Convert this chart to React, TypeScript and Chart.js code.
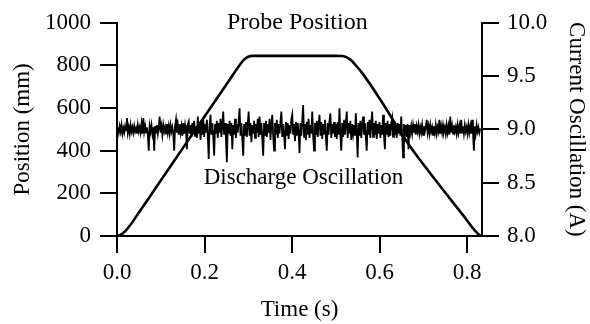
import React, { useEffect, useRef } from "react";
import { Chart, registerables } from "chart.js";

Chart.register(...registerables);

// Probe position (mm) vs time (s)
const probeTime = [0, 0.01, 0.02, 0.03, 0.05, 0.1, 0.15, 0.2, 0.25, 0.28, 0.29, 0.3, 0.31, 0.4, 0.5, 0.515, 0.525, 0.535, 0.545, 0.56, 0.6, 0.663, 0.724, 0.8, 0.815, 0.825, 0.832];
const probeMM = [0, 8, 25, 50, 110, 260, 411, 561, 711, 801, 827, 841, 845, 845, 845, 844, 838, 824, 802, 765, 645, 440, 272, 73, 32, 10, 0];

// Discharge current oscillation (A), uniformly sampled between noiseStart and noiseEnd
const noiseStart = 0.002;
const noiseEnd = 0.83;
const noiseAmps = [
  9.02, 8.97, 9.03, 8.98, 9.04, 8.96, 9.01, 8.97, 9.03, 8.99, 9.106, 8.97, 9.02, 8.96, 9.04, 8.98, 9.02, 8.97, 9.03, 8.98,
  9.01, 8.96, 9.04, 8.98, 9.02, 8.97, 9.05, 8.96, 9.106, 8.98, 9.03, 8.97, 9.02, 8.95, 8.8, 9.03, 8.98, 9.04, 8.96, 9.02,
  8.8, 9.03, 8.97, 9.04, 8.96, 9.02, 9.12, 8.97, 9.03, 8.95, 9.04, 8.98, 9.02, 8.96, 9.05, 8.97, 9.03, 8.96, 9.04, 8.98,
  9.02, 8.96, 8.8, 9.03, 9.09, 8.97, 9.04, 8.95, 9.05, 8.97, 9.03, 8.94, 9.06, 8.96, 9.04, 8.98, 8.814, 9.05, 9.075, 8.96,
  9.04, 8.93, 9.06, 8.97, 9.08, 8.94, 9.03, 8.92, 9.12, 8.96, 9.05, 8.9, 9.07, 8.95, 9.106, 8.93, 9.05, 8.97, 9.09, 8.94,
  8.722, 9.04, 9.137, 8.95, 9.06, 8.93, 8.753, 9.05, 8.96, 9.08, 8.92, 9.06, 8.97, 9.1, 8.93, 9.04, 9.167, 8.95, 9.06, 8.91,
  8.691, 9.05, 8.96, 9.08, 8.94, 9.06, 8.814, 9.04, 8.95, 9.1, 8.92, 9.05, 8.97, 9.08, 9.198, 8.94, 9.06, 8.9, 8.753, 9.05,
  8.95, 9.07, 8.93, 9.05, 9.167, 8.94, 9.06, 8.88, 9.04, 8.96, 9.08, 8.92, 9.05, 8.97, 9.1, 8.93, 9.12, 8.95, 9.06, 8.91,
  8.753, 9.06, 8.95, 9.08, 8.93, 9.05, 8.97, 9.1, 8.9, 9.04, 9.137, 8.94, 8.8, 9.06, 8.95, 9.09, 8.92, 9.05, 8.96, 9.07,
  9.167, 8.93, 9.05, 8.95, 8.814, 9.07, 8.94, 9.06, 8.91, 9.04, 8.96, 9.09, 9.137, 8.95, 9.05, 8.89, 9.07, 8.94, 9.06, 8.96,
  8.78, 9.06, 8.94, 9.08, 9.229, 8.93, 9.05, 8.9, 9.07, 8.95, 9.1, 8.92, 9.04, 8.96, 9.167, 8.94, 8.8, 9.06, 8.95, 9.08,
  8.93, 9.05, 9.137, 8.94, 9.07, 8.91, 9.05, 8.96, 9.09, 8.93, 8.8, 9.06, 8.95, 9.08, 9.15, 8.92, 9.05, 8.96, 9.07, 8.93,
  9.05, 8.91, 9.07, 8.95, 9.198, 8.94, 8.8, 9.06, 8.93, 9.09, 8.95, 9.05, 9.167, 8.92, 9.06, 8.96, 9.08, 8.9, 9.05, 8.96,
  9.04, 8.94, 9.15, 8.96, 8.737, 9.06, 8.94, 9.08, 8.92, 9.05, 9.12, 8.95, 9.06, 8.93, 8.8, 9.07, 8.95, 9.09, 8.92, 9.05,
  9.167, 8.93, 9.06, 8.95, 9.08, 8.91, 9.05, 8.96, 9.07, 8.92, 9.04, 8.95, 9.137, 8.94, 8.814, 9.06, 8.95, 9.08, 8.93, 9.05,
  8.94, 9.06, 9.106, 8.93, 9.07, 8.95, 9.04, 8.92, 9.06, 8.96, 9.05, 8.94, 9.12, 8.95, 8.737, 9.05, 8.96, 9.04, 8.93, 9.05,
  8.814, 9.04, 8.97, 9.03, 8.96, 9.04, 8.97, 9.05, 8.95, 9.03, 8.98, 9.04, 8.96, 9.02, 8.97, 9.04, 8.95, 9.03, 8.98, 9.02,
  9.09, 8.97, 9.03, 8.96, 9.04, 8.98, 9.02, 8.95, 9.03, 8.97, 9.04, 8.96, 9.02, 8.98, 9.09, 8.96, 9.03, 8.97, 9.04, 8.98,
  9.02, 8.96, 9.04, 8.97, 9.03, 8.95, 9.12, 8.97, 9.03, 8.96, 9.04, 8.98, 9.02, 8.96, 9.04, 8.97, 9.03, 8.96, 9.09, 8.97,
  9.03, 8.96, 9.04, 8.98, 9.02, 8.96, 9.04, 8.97, 9.03, 8.96, 9.09, 8.97, 8.8, 9.03, 8.96, 9.04, 8.98, 9.02, 8.97, 9.01,
];

// In-plot text labels (time, position mm)
const annotText = ["Probe Position", "Discharge Oscillation"];
const annotTime = [0.412, 0.426];
const annotMM = [1000, 271];
const annotSize = [24, 23];

const FONT = '"Liberation Serif", "Times New Roman", serif';

export default function App() {
  const ref = useRef<HTMLCanvasElement | null>(null);

  useEffect(() => {
    const canvas = ref.current;
    if (!canvas) return;

    const probeData = probeTime.map((t, i) => ({ x: t, y: probeMM[i] }));
    const dt = (noiseEnd - noiseStart) / (noiseAmps.length - 1);
    const noiseData = noiseAmps.map((a, i) => ({ x: noiseStart + i * dt, y: a }));

    const annotPlugin = {
      id: "annot",
      afterDatasetsDraw(chart: any) {
        const { ctx, scales } = chart;
        ctx.save();
        ctx.fillStyle = "#000";
        ctx.textAlign = "center";
        ctx.textBaseline = "middle";
        annotText.forEach((txt, i) => {
          ctx.font = `${annotSize[i]}px ${FONT}`;
          ctx.fillText(txt, scales.x.getPixelForValue(annotTime[i]), scales.y.getPixelForValue(annotMM[i]));
        });
        ctx.restore();
      },
    };

    const axisCommon = (tickLen: number) => ({
      grid: { drawOnChartArea: false, drawTicks: true, tickLength: tickLen, color: "#000", lineWidth: 2 },
      border: { display: true, color: "#000", width: 2 },
    });

    const chart = new Chart(canvas, {
      type: "line",
      data: {
        datasets: [
          {
            label: "Probe Position",
            data: probeData,
            yAxisID: "y",
            borderColor: "#000",
            borderWidth: 2.6,
            pointRadius: 0,
            cubicInterpolationMode: "monotone",
            fill: false,
          },
          {
            label: "Discharge Oscillation",
            data: noiseData,
            yAxisID: "y2",
            borderColor: "#000",
            borderWidth: 1.8,
            pointRadius: 0,
            tension: 0,
            fill: false,
          },
        ],
      },
      options: {
        animation: false,
        responsive: false,
        maintainAspectRatio: false,
        layout: { padding: { top: 18, left: 0, right: 0, bottom: 0 } },
        plugins: { legend: { display: false }, tooltip: { enabled: false } },
        scales: {
          x: {
            type: "linear",
            min: 0,
            max: 0.834,
            ...axisCommon(17),
            ticks: {
              stepSize: 0.2,
              includeBounds: false,
              color: "#000",
              padding: 6,
              font: { family: FONT, size: 23 },
              callback: (v: any) => Number(v).toFixed(1),
            },
            title: { display: true, text: "Time (s)", color: "#000", font: { family: FONT, size: 23 }, padding: { top: 0, bottom: 0 } },
            afterFit: (s: any) => { s.height = 88; },
          },
          y: {
            type: "linear",
            position: "left",
            min: 0,
            max: 1000,
            ...axisCommon(17),
            ticks: {
              stepSize: 200,
              color: "#000",
              padding: 9,
              font: { family: FONT, size: 23 },
              callback: (v: any) => String(v),
            },
            title: { display: true, text: "Position (mm)", color: "#000", font: { family: FONT, size: 23 }, padding: { top: 9, bottom: 0 } },
            afterFit: (s: any) => { s.width = 117; },
          },
          y2: {
            type: "linear",
            position: "right",
            min: 8,
            max: 10,
            ...axisCommon(17),
            ticks: {
              stepSize: 0.5,
              color: "#000",
              padding: 8,
              font: { family: FONT, size: 23 },
              callback: (v: any) => Number(v).toFixed(1),
            },
            title: { display: true, text: "Current Oscillation (A)", color: "#000", font: { family: FONT, size: 23 }, padding: { top: 0, bottom: 0 } },
            afterFit: (s: any) => { s.width = 108; },
          },
        },
      },
      plugins: [annotPlugin],
    } as any);

    return () => chart.destroy();
  }, []);

  return (
    <div style={{ position: "absolute", left: 0, top: 0, width: 590, height: 324, background: "#fff" }}>
      <canvas ref={ref} width={590} height={324} style={{ display: "block", width: 590, height: 324 }} />
    </div>
  );
}
